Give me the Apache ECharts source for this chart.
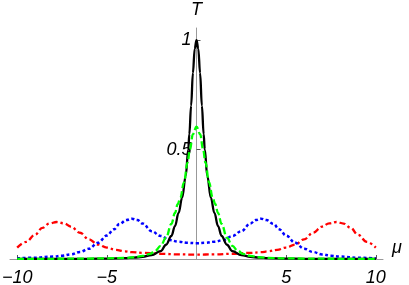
<!DOCTYPE html>
<html>
<head>
<meta charset="utf-8">
<script src="https://cdn.jsdelivr.net/npm/echarts@6/dist/echarts.min.js"></script>
<style>html,body{margin:0;padding:0;background:#fff}#c{width:409px;height:285px}</style>
</head>
<body>
<div id="c"></div>
<script>
// x ticks with labels
const xTickValues = [-10, -5, 5, 10];
const yTickValues = [0.5, 1];

// black solid
const blackX = [-10,-8,-6,-5,-4,-3.5,-3,-2.5,-2,-1.7,-1.4,-1.2,-1,-0.8,-0.6,-0.46,-0.4,-0.3,-0.2,-0.1,0,0.1,0.2,0.3,0.4,0.46,0.6,0.8,1,1.2,1.4,1.7,2,2.5,3,3.5,4,5,6,8,10];
const blackY = [0.0003,0.0005,0.001,0.002,0.004,0.006,0.01,0.018,0.036,0.065,0.105,0.15,0.21,0.28,0.38,0.5,0.57,0.7,0.85,0.96,1.0,0.96,0.85,0.7,0.57,0.5,0.38,0.28,0.21,0.15,0.105,0.065,0.036,0.018,0.01,0.006,0.004,0.002,0.001,0.0005,0.0003];

// green dashed
const greenX = [-10,-8,-6,-5,-4,-3.5,-3,-2.6,-2.3,-2,-1.7,-1.4,-1.2,-1.05,-0.9,-0.7,-0.5,-0.37,-0.2,0,0.2,0.37,0.5,0.7,0.9,1.05,1.2,1.4,1.7,2,2.3,2.6,3,3.5,4,5,6,8,10];
const greenY = [0.0005,0.001,0.002,0.003,0.005,0.008,0.014,0.023,0.038,0.06,0.097,0.16,0.21,0.25,0.28,0.35,0.44,0.5,0.57,0.605,0.57,0.5,0.44,0.35,0.28,0.25,0.21,0.16,0.097,0.06,0.038,0.023,0.014,0.008,0.005,0.003,0.002,0.001,0.0005];

// blue dotted
const blueX = [-10,-9,-8,-7.5,-7,-6.5,-6,-5.5,-5,-4.6,-4.3,-3.9,-3.6,-3.3,-3,-2.5,-2,-1.5,-1,-0.5,0,0.5,1,1.5,2,2.5,3,3.3,3.6,3.9,4.3,4.6,5,5.5,6,6.5,7,7.5,8,9,10];
const blueY = [0.003,0.006,0.011,0.015,0.021,0.032,0.047,0.074,0.107,0.136,0.16,0.178,0.184,0.178,0.162,0.127,0.105,0.087,0.079,0.074,0.072,0.074,0.079,0.087,0.105,0.127,0.162,0.178,0.184,0.178,0.16,0.136,0.107,0.074,0.047,0.032,0.021,0.015,0.011,0.006,0.003];

// red dash-dot
const redX = [-10,-9.5,-9,-8.6,-8.2,-7.8,-7.4,-7,-6.5,-6,-5.5,-5,-4.5,-4,-3.6,-3,-2,-1,0,1,2,3,3.6,4,4.5,5,5.5,6,6.5,7,7.4,7.8,8.2,8.6,9,9.5,10];
const redY = [0.052,0.078,0.111,0.142,0.162,0.169,0.163,0.148,0.12,0.09,0.066,0.052,0.042,0.035,0.031,0.028,0.024,0.021,0.02,0.021,0.024,0.028,0.031,0.035,0.042,0.052,0.066,0.09,0.12,0.148,0.163,0.169,0.162,0.142,0.111,0.078,0.052];

function pairs(xs, ys){ return xs.map((x,i)=>[x, ys[i]]); }

const GRID_LEFT = 10, GRID_RIGHT = 26, W = 409;
const X_MIN = -10.4, X_MAX = 10.4;
const gridW = W - GRID_LEFT - GRID_RIGHT;
const zeroOffset = -gridW * (0 - X_MIN) / (X_MAX - X_MIN);

const chart = echarts.init(document.getElementById('c'), null, {renderer:'canvas'});
const axisColor = '#999999';
const labelFont = {fontFamily:'Liberation Sans', fontStyle:'italic', fontSize:18, color:'#000'};
function fmt(v){ return (v < 0 ? '\u2212' + Math.abs(v) : String(v)); }

chart.setOption({
  animation:false,
  grid:{left:GRID_LEFT, right:GRID_RIGHT, top:28, bottom:26, outerBoundsMode:'none', containLabel:false},
  xAxis:{
    type:'value', min:X_MIN, max:X_MAX,
    name:'\u03bc', nameLocation:'end', nameGap:9,
    nameTextStyle:{fontFamily:'Liberation Sans', fontStyle:'italic', fontSize:18, color:'#000', verticalAlign:'bottom', padding:[0,0,2,0]},
    axisLine:{onZero:false, lineStyle:{color:axisColor, width:1}},
    axisTick:{show:true, inside:true, length:4, customValues:xTickValues, lineStyle:{color:'#555'}},
    axisLabel:{customValues:xTickValues, margin:10, formatter:fmt, ...labelFont},
    splitLine:{show:false}
  },
  yAxis:{
    type:'value', min:0, max:1.055, position:'left', offset:zeroOffset,
    name:'T', nameLocation:'end', nameGap:9,
    nameTextStyle:{fontFamily:'Liberation Sans', fontStyle:'italic', fontSize:18, color:'#000', align:'center'},
    axisLine:{onZero:false, lineStyle:{color:axisColor, width:1}},
    axisTick:{show:true, inside:true, length:4, customValues:yTickValues, lineStyle:{color:'#555'}},
    axisLabel:{customValues:yTickValues, margin:5, formatter:v=>String(v), ...labelFont},
    splitLine:{show:false}
  },
  series:[
    {type:'line', data:pairs(redX, redY), showSymbol:false, smooth:0.4, smoothMonotone:'x',
     lineStyle:{color:'#ff0000', width:2.3, type:[6,3,2.5,3]}, z:2},
    {type:'line', data:pairs(blueX, blueY), showSymbol:false, smooth:0.4, smoothMonotone:'x',
     lineStyle:{color:'#0000ff', width:2.5, type:[3,2.5]}, z:3},
    {type:'line', data:pairs(blackX, blackY), showSymbol:false, smooth:0.4, smoothMonotone:'x',
     lineStyle:{color:'#000000', width:2.3}, z:4},
    {type:'line', data:pairs(greenX, greenY), showSymbol:false, smooth:0.4, smoothMonotone:'x',
     lineStyle:{color:'#00ff00', width:2.3, type:[7,3]}, z:5}
  ]
});
</script>
</body>
</html>
